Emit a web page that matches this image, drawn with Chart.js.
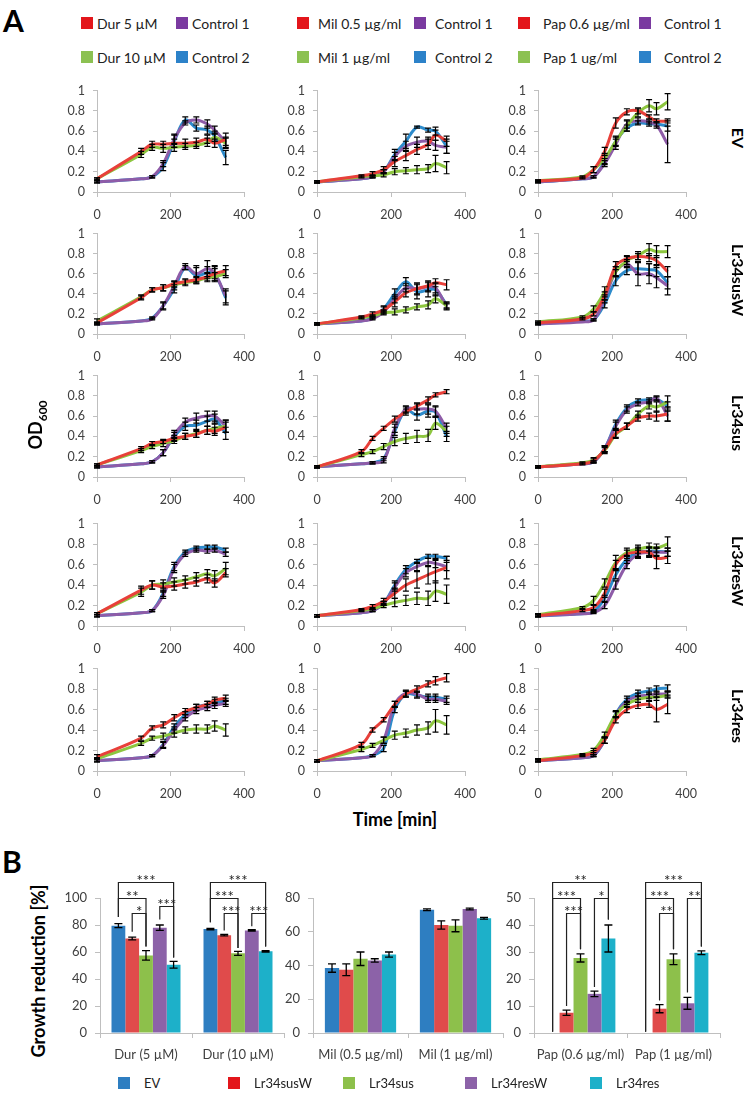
<!DOCTYPE html>
<html>
<head>
<meta charset="utf-8">
<script src="https://cdn.jsdelivr.net/npm/chart.js@4.4.1/dist/chart.umd.min.js"></script>
<style>
  html, body { margin: 0; padding: 0; background: #fff; }
  #fig { position: relative; width: 745px; height: 1094px; overflow: hidden; font-family: Lato, "Open Sans", sans-serif; }
  .txt { position: absolute; white-space: nowrap; color: #000; }
  .rot { transform: translate(-50%, -50%) rotate(90deg); font-weight: bold; font-size: 16px; }
  .rotl { transform: translate(-50%, -50%) rotate(-90deg); font-weight: bold; font-size: 18px; }
  .sq { position: absolute; width: 12px; height: 12px; }
  .leg { position: absolute; font-size: 14px; color: #222; white-space: nowrap; transform: translateY(-50%); }
</style>
</head>
<body>
<div id="fig"></div>
<script>
// ---- data: growth curves (OD600) ----
const times = [0, 120, 150, 180, 210, 240, 270, 300, 320, 350];
const strains = ['EV', 'Lr34susW', 'Lr34sus', 'Lr34resW', 'Lr34res'];
const doseLabels = [['Dur 5 µM', 'Dur 10 µM'], ['Mil 0.5 µg/ml', 'Mil 1 µg/ml'], ['Pap 0.6 µg/ml', 'Pap 1 ug/ml']];
const controlLabels = ['Control 1', 'Control 2'];

// series order in every panel: low dose, high dose, control 1, control 2
const odEV_Dur = [
  [0.13, 0.40, 0.47, 0.47, 0.48, 0.48, 0.49, 0.52, 0.48, 0.52],
  [0.13, 0.37, 0.44, 0.43, 0.44, 0.45, 0.46, 0.49, 0.54, 0.48],
  [0.10, 0.13, 0.15, 0.28, 0.52, 0.68, 0.71, 0.67, 0.61, 0.49],
  [0.10, 0.13, 0.15, 0.25, 0.50, 0.71, 0.63, 0.61, 0.55, 0.34]];
const sdEV_Dur = [
  [0.01, 0.03, 0.03, 0.03, 0.04, 0.04, 0.04, 0.04, 0.04, 0.06],
  [0.01, 0.03, 0.03, 0.04, 0.04, 0.03, 0.03, 0.04, 0.04, 0.05],
  [0.01, 0, 0.01, 0.03, 0.05, 0.02, 0.03, 0.04, 0.04, 0.05],
  [0.01, 0, 0.01, 0.04, 0.06, 0.03, 0.03, 0.04, 0.05, 0.07]];
const odEV_Mil = [
  [0.10, 0.16, 0.18, 0.22, 0.30, 0.36, 0.42, 0.47, 0.56, 0.50],
  [0.10, 0.15, 0.16, 0.17, 0.20, 0.21, 0.22, 0.23, 0.28, 0.24],
  [0.10, 0.13, 0.15, 0.20, 0.35, 0.45, 0.49, 0.50, 0.46, 0.44],
  [0.10, 0.13, 0.15, 0.20, 0.37, 0.50, 0.64, 0.61, 0.60, 0.45]];
const sdEV_Mil = [
  [0.01, 0.01, 0.02, 0.03, 0.05, 0.05, 0.05, 0.05, 0.05, 0.05],
  [0.01, 0.01, 0.01, 0.02, 0.03, 0.03, 0.04, 0.04, 0.08, 0.06],
  [0.01, 0, 0.01, 0.02, 0.04, 0.05, 0.05, 0.04, 0.05, 0.06],
  [0.01, 0, 0.01, 0.02, 0.05, 0.07, 0.01, 0.02, 0.04, 0.07]];
const odEV_Pap = [
  [0.11, 0.14, 0.22, 0.40, 0.68, 0.79, 0.80, 0.74, 0.70, 0.70],
  [0.11, 0.15, 0.22, 0.33, 0.50, 0.65, 0.78, 0.85, 0.82, 0.89],
  [0.10, 0.13, 0.15, 0.28, 0.47, 0.67, 0.70, 0.69, 0.66, 0.47],
  [0.10, 0.13, 0.15, 0.30, 0.50, 0.63, 0.68, 0.67, 0.67, 0.65]];
const sdEV_Pap = [
  [0.01, 0.01, 0.03, 0.04, 0.05, 0.03, 0.03, 0.02, 0.02, 0.02],
  [0.01, 0.01, 0.03, 0.05, 0.05, 0.05, 0.04, 0.06, 0.06, 0.08],
  [0.01, 0, 0.01, 0.03, 0.05, 0.04, 0.03, 0.02, 0.03, 0.18],
  [0.01, 0, 0.01, 0.03, 0.04, 0.03, 0.02, 0.02, 0.02, 0.05]];

const odSusW_Dur = [
  [0.11, 0.36, 0.44, 0.46, 0.50, 0.52, 0.54, 0.57, 0.60, 0.63],
  [0.13, 0.37, 0.44, 0.46, 0.49, 0.51, 0.53, 0.56, 0.57, 0.60],
  [0.10, 0.13, 0.15, 0.28, 0.48, 0.67, 0.60, 0.65, 0.60, 0.38],
  [0.10, 0.13, 0.16, 0.28, 0.45, 0.66, 0.58, 0.61, 0.60, 0.36]];
const sdSusW_Dur = [
  [0.01, 0.02, 0.02, 0.03, 0.03, 0.03, 0.03, 0.04, 0.05, 0.05],
  [0.02, 0.02, 0.02, 0.03, 0.03, 0.03, 0.03, 0.04, 0.04, 0.04],
  [0.01, 0, 0.01, 0.03, 0.04, 0.03, 0.08, 0.08, 0.07, 0.07],
  [0.01, 0, 0.01, 0.04, 0.04, 0.02, 0.08, 0.06, 0.08, 0.07]];
const odSusW_Mil = [
  [0.10, 0.17, 0.20, 0.24, 0.32, 0.41, 0.45, 0.48, 0.51, 0.49],
  [0.10, 0.16, 0.18, 0.21, 0.22, 0.24, 0.27, 0.29, 0.35, 0.28],
  [0.10, 0.13, 0.15, 0.22, 0.35, 0.46, 0.45, 0.47, 0.46, 0.27],
  [0.10, 0.13, 0.16, 0.25, 0.40, 0.52, 0.42, 0.44, 0.44, 0.29]];
const sdSusW_Mil = [
  [0.01, 0.01, 0.02, 0.03, 0.05, 0.04, 0.05, 0.05, 0.04, 0.05],
  [0.01, 0.01, 0.01, 0.02, 0.03, 0.03, 0.03, 0.04, 0.04, 0.03],
  [0.01, 0, 0.01, 0.02, 0.04, 0.04, 0.06, 0.05, 0.05, 0.03],
  [0.01, 0, 0.01, 0.03, 0.05, 0.04, 0.07, 0.07, 0.06, 0.03]];
const odSusW_Pap = [
  [0.11, 0.15, 0.20, 0.38, 0.68, 0.75, 0.77, 0.76, 0.73, 0.62],
  [0.12, 0.17, 0.25, 0.42, 0.62, 0.73, 0.78, 0.84, 0.82, 0.82],
  [0.10, 0.12, 0.14, 0.35, 0.62, 0.70, 0.60, 0.60, 0.56, 0.48],
  [0.10, 0.13, 0.14, 0.30, 0.53, 0.63, 0.65, 0.64, 0.63, 0.51]];
const sdSusW_Pap = [
  [0.01, 0.01, 0.02, 0.04, 0.04, 0.03, 0.03, 0.04, 0.05, 0.05],
  [0.01, 0.01, 0.03, 0.05, 0.05, 0.04, 0.04, 0.06, 0.06, 0.06],
  [0.01, 0, 0.01, 0.04, 0.05, 0.04, 0.12, 0.10, 0.10, 0.09],
  [0.01, 0, 0.01, 0.04, 0.05, 0.04, 0.06, 0.06, 0.06, 0.06]];

const odSus_Dur = [
  [0.12, 0.28, 0.33, 0.35, 0.38, 0.40, 0.42, 0.46, 0.45, 0.49],
  [0.12, 0.26, 0.30, 0.33, 0.36, 0.40, 0.43, 0.46, 0.48, 0.50],
  [0.10, 0.13, 0.15, 0.24, 0.42, 0.54, 0.58, 0.60, 0.60, 0.50],
  [0.10, 0.13, 0.15, 0.24, 0.40, 0.50, 0.51, 0.55, 0.57, 0.43]];
const sdSus_Dur = [
  [0.01, 0.02, 0.02, 0.02, 0.03, 0.03, 0.03, 0.04, 0.04, 0.05],
  [0.01, 0.02, 0.02, 0.03, 0.03, 0.03, 0.04, 0.04, 0.05, 0.06],
  [0.01, 0, 0.01, 0.03, 0.04, 0.04, 0.05, 0.05, 0.05, 0.06],
  [0.01, 0, 0.01, 0.03, 0.04, 0.04, 0.05, 0.05, 0.05, 0.06]];
const odSus_Mil = [
  [0.10, 0.25, 0.38, 0.48, 0.57, 0.64, 0.70, 0.76, 0.81, 0.84],
  [0.10, 0.22, 0.25, 0.30, 0.35, 0.38, 0.40, 0.41, 0.53, 0.45],
  [0.10, 0.13, 0.14, 0.16, 0.48, 0.67, 0.67, 0.67, 0.65, 0.48],
  [0.10, 0.13, 0.14, 0.18, 0.45, 0.66, 0.61, 0.65, 0.64, 0.40]];
const sdSus_Mil = [
  [0.01, 0.02, 0.02, 0.02, 0.03, 0.03, 0.03, 0.03, 0.02, 0.02],
  [0.01, 0.02, 0.02, 0.03, 0.04, 0.05, 0.06, 0.06, 0.06, 0.05],
  [0.01, 0, 0.01, 0.02, 0.04, 0.03, 0.05, 0.05, 0.05, 0.05],
  [0.01, 0, 0.01, 0.02, 0.04, 0.03, 0.05, 0.06, 0.05, 0.05]];
const odSus_Pap = [
  [0.10, 0.13, 0.16, 0.27, 0.43, 0.50, 0.58, 0.60, 0.60, 0.62],
  [0.10, 0.14, 0.17, 0.26, 0.42, 0.50, 0.62, 0.70, 0.69, 0.74],
  [0.10, 0.13, 0.15, 0.28, 0.50, 0.66, 0.72, 0.74, 0.78, 0.60],
  [0.10, 0.13, 0.15, 0.28, 0.52, 0.68, 0.75, 0.76, 0.77, 0.70]];
const sdSus_Pap = [
  [0.01, 0.01, 0.02, 0.03, 0.04, 0.03, 0.03, 0.03, 0.05, 0.07],
  [0.01, 0.01, 0.02, 0.03, 0.04, 0.03, 0.03, 0.03, 0.05, 0.06],
  [0.01, 0, 0.01, 0.03, 0.04, 0.03, 0.02, 0.02, 0.02, 0.05],
  [0.01, 0, 0.01, 0.03, 0.04, 0.03, 0.02, 0.02, 0.02, 0.04]];

const odResW_Dur = [
  [0.12, 0.35, 0.40, 0.38, 0.39, 0.41, 0.43, 0.46, 0.42, 0.52],
  [0.12, 0.33, 0.40, 0.41, 0.43, 0.45, 0.48, 0.51, 0.49, 0.56],
  [0.10, 0.13, 0.15, 0.30, 0.56, 0.70, 0.74, 0.73, 0.74, 0.70],
  [0.10, 0.13, 0.15, 0.32, 0.58, 0.72, 0.76, 0.77, 0.77, 0.74]];
const sdResW_Dur = [
  [0.01, 0.04, 0.04, 0.04, 0.04, 0.04, 0.04, 0.04, 0.04, 0.04],
  [0.01, 0.04, 0.04, 0.04, 0.04, 0.04, 0.04, 0.04, 0.05, 0.06],
  [0.01, 0, 0.01, 0.03, 0.04, 0.02, 0.02, 0.02, 0.02, 0.02],
  [0.01, 0, 0.01, 0.03, 0.04, 0.02, 0.02, 0.02, 0.02, 0.02]];
const odResW_Mil = [
  [0.10, 0.16, 0.19, 0.24, 0.32, 0.40, 0.45, 0.50, 0.53, 0.57],
  [0.10, 0.15, 0.17, 0.20, 0.23, 0.25, 0.27, 0.27, 0.34, 0.31],
  [0.10, 0.13, 0.15, 0.22, 0.38, 0.52, 0.58, 0.62, 0.61, 0.58],
  [0.10, 0.13, 0.15, 0.22, 0.40, 0.55, 0.63, 0.68, 0.68, 0.66]];
const sdResW_Mil = [
  [0.01, 0.01, 0.02, 0.03, 0.05, 0.06, 0.08, 0.09, 0.11, 0.11],
  [0.01, 0.01, 0.01, 0.02, 0.04, 0.05, 0.06, 0.07, 0.10, 0.09],
  [0.01, 0, 0.01, 0.02, 0.04, 0.04, 0.04, 0.04, 0.04, 0.04],
  [0.01, 0, 0.01, 0.02, 0.04, 0.04, 0.02, 0.02, 0.02, 0.02]];
const odResW_Pap = [
  [0.10, 0.15, 0.18, 0.32, 0.60, 0.70, 0.72, 0.72, 0.66, 0.67],
  [0.11, 0.18, 0.25, 0.42, 0.62, 0.72, 0.75, 0.77, 0.76, 0.80],
  [0.10, 0.12, 0.13, 0.20, 0.40, 0.60, 0.70, 0.72, 0.72, 0.72],
  [0.10, 0.12, 0.14, 0.27, 0.50, 0.65, 0.72, 0.73, 0.73, 0.72]];
const sdResW_Pap = [
  [0.01, 0.01, 0.02, 0.04, 0.04, 0.04, 0.05, 0.05, 0.10, 0.06],
  [0.01, 0.01, 0.04, 0.04, 0.07, 0.04, 0.04, 0.04, 0.04, 0.07],
  [0.01, 0, 0.01, 0.03, 0.04, 0.04, 0.04, 0.04, 0.04, 0.04],
  [0.01, 0, 0.01, 0.03, 0.04, 0.04, 0.04, 0.04, 0.04, 0.04]];

const odRes_Dur = [
  [0.14, 0.32, 0.42, 0.45, 0.52, 0.58, 0.62, 0.65, 0.69, 0.71],
  [0.12, 0.27, 0.32, 0.34, 0.37, 0.40, 0.41, 0.41, 0.44, 0.40],
  [0.10, 0.13, 0.15, 0.25, 0.40, 0.52, 0.59, 0.62, 0.64, 0.66],
  [0.10, 0.13, 0.15, 0.26, 0.43, 0.55, 0.62, 0.65, 0.67, 0.68]];
const sdRes_Dur = [
  [0.02, 0.02, 0.02, 0.03, 0.03, 0.03, 0.03, 0.03, 0.03, 0.03],
  [0.01, 0.02, 0.02, 0.03, 0.04, 0.03, 0.04, 0.04, 0.05, 0.06],
  [0.01, 0, 0.01, 0.03, 0.03, 0.03, 0.03, 0.03, 0.03, 0.03],
  [0.01, 0, 0.01, 0.03, 0.03, 0.03, 0.03, 0.03, 0.03, 0.03]];
const odRes_Mil = [
  [0.10, 0.26, 0.40, 0.50, 0.65, 0.75, 0.80, 0.85, 0.88, 0.91],
  [0.10, 0.21, 0.25, 0.30, 0.35, 0.37, 0.40, 0.42, 0.49, 0.45],
  [0.10, 0.13, 0.15, 0.30, 0.65, 0.76, 0.75, 0.70, 0.70, 0.68],
  [0.10, 0.13, 0.15, 0.22, 0.60, 0.75, 0.74, 0.72, 0.72, 0.70]];
const sdRes_Mil = [
  [0.01, 0.02, 0.02, 0.02, 0.03, 0.03, 0.03, 0.03, 0.04, 0.04],
  [0.01, 0.02, 0.02, 0.03, 0.04, 0.04, 0.05, 0.06, 0.11, 0.09],
  [0.01, 0, 0.01, 0.03, 0.03, 0.03, 0.03, 0.03, 0.03, 0.03],
  [0.01, 0, 0.01, 0.03, 0.03, 0.03, 0.03, 0.03, 0.03, 0.03]];
const odRes_Pap = [
  [0.10, 0.15, 0.18, 0.30, 0.50, 0.60, 0.64, 0.65, 0.60, 0.65],
  [0.11, 0.16, 0.20, 0.35, 0.55, 0.65, 0.70, 0.72, 0.72, 0.74],
  [0.10, 0.13, 0.15, 0.30, 0.55, 0.68, 0.73, 0.74, 0.75, 0.75],
  [0.10, 0.13, 0.15, 0.30, 0.56, 0.70, 0.76, 0.78, 0.80, 0.81]];
const sdRes_Pap = [
  [0.01, 0.01, 0.02, 0.03, 0.03, 0.03, 0.03, 0.03, 0.12, 0.09],
  [0.01, 0.01, 0.02, 0.03, 0.03, 0.03, 0.03, 0.03, 0.03, 0.03],
  [0.01, 0, 0.01, 0.03, 0.03, 0.03, 0.03, 0.03, 0.03, 0.03],
  [0.01, 0, 0.01, 0.03, 0.03, 0.03, 0.03, 0.03, 0.03, 0.03]];

// ---- data: growth reduction (%) ----
const barStrains = ['EV', 'Lr34susW', 'Lr34sus', 'Lr34resW', 'Lr34res'];
const durLabels = ['Dur (5 µM)', 'Dur (10 µM)'];
const milLabels = ['Mil (0.5 µg/ml)', 'Mil (1 µg/ml)'];
const papLabels = ['Pap (0.6 µg/ml)', 'Pap (1 µg/ml)'];
const durReduction = [[79.5, 77], [70, 72.5], [57.5, 59], [78, 76], [50.5, 60.5]];
const durSD = [[1.5, 0.5], [1, 0.5], [3.5, 1.5], [2, 0.5], [2.5, 0.5]];
const milReduction = [[38.5, 73], [37.5, 64], [44, 63.5], [43, 73.5], [46.5, 68]];
const milSD = [[2.5, 0.5], [3.5, 2.5], [4, 3.5], [1, 0.5], [1.5, 0.5]];
const papReduction = [[0, 0], [7.5, 9], [27.8, 27.3], [14.5, 11], [35, 29.7]];
const papSD = [[0, 0], [1, 1.5], [1.5, 2], [1, 2.2], [5, 0.7]];

// significance brackets: [category, from strain, to strain, level, foot from, foot to, text]
const durBrackets = [
  [0, 0, 4, 112, 86, 56, '***'], [0, 0, 2, 100, 86, 64, '**'], [0, 1, 2, 89, 75, 64, '*'], [0, 3, 4, 94, 84, 56, '***'],
  [1, 0, 4, 112, 82, 64, '***'], [1, 0, 2, 100, 82, 63, '***'], [1, 1, 2, 89, 76, 63, '***'], [1, 3, 4, 89, 79, 64, '***']];
const papBrackets = [
  [0, 0, 4, 56, 0.5, 42, '**'], [0, 0, 2, 50, 0.5, 31, '***'], [0, 1, 2, 44.4, 10, 31, '***'], [0, 3, 4, 50, 17, 42, '*'],
  [1, 0, 4, 56, 0.5, 32, '***'], [1, 0, 2, 50, 0.5, 31, '***'], [1, 1, 2, 44.4, 12, 31, '**'], [1, 3, 4, 50, 15, 32, '**']];

// ---- style ----
const FONT = 'Lato, "Open Sans", sans-serif';
const lineColors = ['#E8403A', '#8DC63F', '#8E5CA8', '#2D8BCB'];
const legendColors = ['#E3161B', '#8CC152', '#7A3AA0', '#2C82C9'];
const barColors = ['#2E7EC1', '#E04B4B', '#8DC04B', '#8C62A8', '#1DB0C9'];
const axisColor = '#BFBFBF';
const tickColor = '#404040';

const fig = document.getElementById('fig');

function addText(html, x, y, cls, style) {
  const d = document.createElement('div');
  d.className = 'txt ' + (cls || '');
  d.innerHTML = html;
  d.style.left = x + 'px';
  d.style.top = y + 'px';
  if (style) Object.assign(d.style, style);
  fig.appendChild(d);
  return d;
}

function placeCanvas(box, m) {
  const c = document.createElement('canvas');
  const w = Math.round(box.x1 - box.x0 + m.l + m.r);
  const h = Math.round(box.y1 - box.y0 + m.t + m.b);
  c.width = w; c.height = h;
  c.style.cssText = `position:absolute;left:${box.x0 - m.l}px;top:${box.y0 - m.t}px;width:${w}px;height:${h}px`;
  fig.appendChild(c);
  return c;
}

// error bars for line and bar datasets
const errorBars = {
  id: 'errorBars',
  afterDatasetsDraw(chart) {
    const ctx = chart.ctx;
    ctx.save();
    ctx.strokeStyle = '#000';
    ctx.lineWidth = chart.config.type === 'bar' ? 1.3 : 1.2;
    const cap = chart.config.type === 'bar' ? 4 : 3;
    chart.data.datasets.forEach((ds, i) => {
      if (!ds.errors) return;
      const meta = chart.getDatasetMeta(i);
      const ys = chart.scales[meta.yAxisID];
      meta.data.forEach((el, j) => {
        const e = ds.errors[j];
        if (!e) return;
        const raw = ds.data[j];
        const v = typeof raw === 'object' ? raw.y : raw;
        const yt = ys.getPixelForValue(v + e), yb = ys.getPixelForValue(Math.max(0, v - e));
        const x = el.x;
        ctx.beginPath();
        ctx.moveTo(x, yt); ctx.lineTo(x, yb);
        ctx.moveTo(x - cap, yt); ctx.lineTo(x + cap, yt);
        ctx.moveTo(x - cap, yb); ctx.lineTo(x + cap, yb);
        ctx.stroke();
      });
    });
    ctx.restore();
  }
};

// significance brackets above bars
const brackets = {
  id: 'brackets',
  afterDraw(chart, args, opts) {
    if (!opts.items) return;
    const ctx = chart.ctx, ys = chart.scales.y;
    ctx.save();
    ctx.strokeStyle = '#222';
    ctx.lineWidth = 1.2;
    ctx.fillStyle = '#222';
    ctx.font = `15px ${FONT}`;
    ctx.textAlign = 'center';
    ctx.textBaseline = 'alphabetic';
    opts.items.forEach(([cat, a, b, level, fa, fb, label]) => {
      const xa = chart.getDatasetMeta(a).data[cat].x;
      const xb = chart.getDatasetMeta(b).data[cat].x;
      const y = Math.round(ys.getPixelForValue(level)) + 0.5;
      ctx.beginPath();
      ctx.moveTo(xa, ys.getPixelForValue(fa));
      ctx.lineTo(xa, y); ctx.lineTo(xb, y);
      ctx.lineTo(xb, ys.getPixelForValue(fb));
      ctx.stroke();
      ctx.fillText(label, (xa + xb) / 2, y + 3);
    });
    ctx.restore();
  }
};

function axisStyle(extra) {
  return Object.assign({
    grid: { drawOnChartArea: false, tickLength: 5, color: axisColor },
    border: { color: axisColor, width: 1 },
  }, extra);
}

// ---- panel A: 5 x 3 growth curves ----
const panels = [
  [[odEV_Dur, sdEV_Dur], [odEV_Mil, sdEV_Mil], [odEV_Pap, sdEV_Pap]],
  [[odSusW_Dur, sdSusW_Dur], [odSusW_Mil, sdSusW_Mil], [odSusW_Pap, sdSusW_Pap]],
  [[odSus_Dur, sdSus_Dur], [odSus_Mil, sdSus_Mil], [odSus_Pap, sdSus_Pap]],
  [[odResW_Dur, sdResW_Dur], [odResW_Mil, sdResW_Mil], [odResW_Pap, sdResW_Pap]],
  [[odRes_Dur, sdRes_Dur], [odRes_Mil, sdRes_Mil], [odRes_Pap, sdRes_Pap]]];

const colX = [[97, 251], [317, 472], [538, 693]];
const rowY = [[83, 192], [226, 334], [368, 477], [516, 626], [661, 771]];
const lineM = { l: 40, r: 14, t: 8, b: 32 };
// lower order is drawn on top: red, green, purple, blue (bottom)
const drawOrder = [0, 1, 2, 3];

panels.forEach((row, r) => {
  row.forEach(([od, sd], c) => {
    const box = { x0: colX[c][0], x1: colX[c][1], y0: rowY[r][0], y1: rowY[r][1] };
    const cv = placeCanvas(box, lineM);
    const seriesNames = [doseLabels[c][0], doseLabels[c][1], controlLabels[0], controlLabels[1]];
    new Chart(cv, {
      type: 'line',
      data: {
        datasets: [0, 1, 2, 3].map(k => ({
          label: seriesNames[k],
          data: times.map((t, j) => ({ x: t, y: od[k][j] })),
          errors: sd[k],
          borderColor: lineColors[k],
          backgroundColor: lineColors[k],
          borderWidth: 3,
          pointRadius: 0,
          tension: 0.35,
          fill: false,
          order: drawOrder[k],
        }))
      },
      options: {
        responsive: false,
        animation: false,
        layout: { padding: { top: lineM.t, right: lineM.r, left: 0, bottom: 0 } },
        plugins: { legend: { display: false }, tooltip: { enabled: false } },
        scales: {
          x: axisStyle({
            type: 'linear', min: 0, max: 400,
            ticks: { stepSize: 200, color: tickColor, font: { family: FONT, size: 12.5 }, padding: 10, maxRotation: 0 },
            afterFit: s => { s.height = lineM.b; },
          }),
          y: axisStyle({
            min: 0, max: 1,
            grid: { drawOnChartArea: false, tickLength: 4, color: axisColor },
            ticks: {
              stepSize: 0.2, color: tickColor, font: { family: FONT, size: 12.5 }, padding: 8,
              callback: v => String(+v.toFixed(1)),
            },
            afterFit: s => { s.width = lineM.l; },
          }),
        }
      },
      plugins: [errorBars]
    });
  });
  // strain label on the right
  addText(strains[r], 738, (rowY[r][0] + rowY[r][1]) / 2, 'rot');
});

// legends for panel A
const legSqX = [[81, 176], [297, 414], [518, 639]];
const legGap = [16, 21, 25];
const legRowY = [23, 57];
doseLabels.forEach((doses, c) => {
  [0, 1].forEach(rw => {
    const items = [[doses[rw], legendColors[rw]], [controlLabels[rw], legendColors[rw === 0 ? 2 : 3]]];
    items.forEach(([label, color], k) => {
      const x = legSqX[c][k];
      const sq = document.createElement('div');
      sq.className = 'sq';
      sq.style.left = x + 'px';
      sq.style.top = (legRowY[rw] - 6) + 'px';
      sq.style.background = color;
      fig.appendChild(sq);
      const t = document.createElement('div');
      t.className = 'leg';
      t.textContent = label;
      t.style.left = (x + legGap[c]) + 'px';
      t.style.top = legRowY[rw] + 'px';
      fig.appendChild(t);
    });
  });
});

addText('A', 3, 2, '', { fontSize: '30px', fontWeight: 'bold' });
addText('OD<sub style="font-size:12px">600</sub>', 37, 425, 'rotl');
addText('Time [min]', 395, 819, '', { fontSize: '18px', fontWeight: 'bold', transform: 'translate(-50%,-50%)' });

// ---- panel B: growth reduction bars ----
addText('B', 2, 843, '', { fontSize: '30px', fontWeight: 'bold' });
addText('Growth reduction [%]', 38, 971, 'rotl');

const barM = { l: 36, r: 12, t: 50, b: 40 };
const barPanels = [
  { box: { x0: 100, x1: 284, y0: 898, y1: 1033 }, labels: durLabels, vals: durReduction, sd: durSD, max: 100, step: 20, br: durBrackets },
  { box: { x0: 313, x1: 503, y0: 898, y1: 1033 }, labels: milLabels, vals: milReduction, sd: milSD, max: 80, step: 20, br: null },
  { box: { x0: 534, x1: 720, y0: 898, y1: 1033 }, labels: papLabels, vals: papReduction, sd: papSD, max: 50, step: 10, br: papBrackets },
];

barPanels.forEach(p => {
  const cv = placeCanvas(p.box, barM);
  new Chart(cv, {
    type: 'bar',
    data: {
      labels: p.labels,
      datasets: barStrains.map((s, k) => ({
        label: s,
        data: p.vals[k],
        errors: p.sd[k],
        backgroundColor: barColors[k],
        borderWidth: 0,
        categoryPercentage: 0.75,
        barPercentage: 1.0,
      }))
    },
    options: {
      responsive: false,
      animation: false,
      layout: { padding: { top: barM.t, right: barM.r, left: 0, bottom: 0 } },
      plugins: { legend: { display: false }, tooltip: { enabled: false }, brackets: { items: p.br } },
      scales: {
        x: axisStyle({
          ticks: { color: tickColor, font: { family: FONT, size: 13 }, padding: 9, maxRotation: 0, autoSkip: false },
          afterFit: s => { s.height = barM.b; },
        }),
        y: axisStyle({
          min: 0, max: p.max,
          ticks: { stepSize: p.step, color: tickColor, font: { family: FONT, size: 13 }, padding: 8 },
          afterFit: s => { s.width = barM.l; },
        }),
      }
    },
    plugins: [errorBars, brackets]
  });
});

// legend for panel B
const barLegX = [118, 228, 343, 465, 590];
barStrains.forEach((s, k) => {
  const sq = document.createElement('div');
  sq.className = 'sq';
  sq.style.left = barLegX[k] + 'px';
  sq.style.top = (1083 - 6) + 'px';
  sq.style.background = k === 1 ? '#E3161B' : barColors[k];
  fig.appendChild(sq);
  const t = document.createElement('div');
  t.className = 'leg';
  t.style.fontSize = '13px';
  t.textContent = s;
  t.style.left = (barLegX[k] + 26) + 'px';
  t.style.top = '1083px';
  fig.appendChild(t);
});
</script>
</body>
</html>
